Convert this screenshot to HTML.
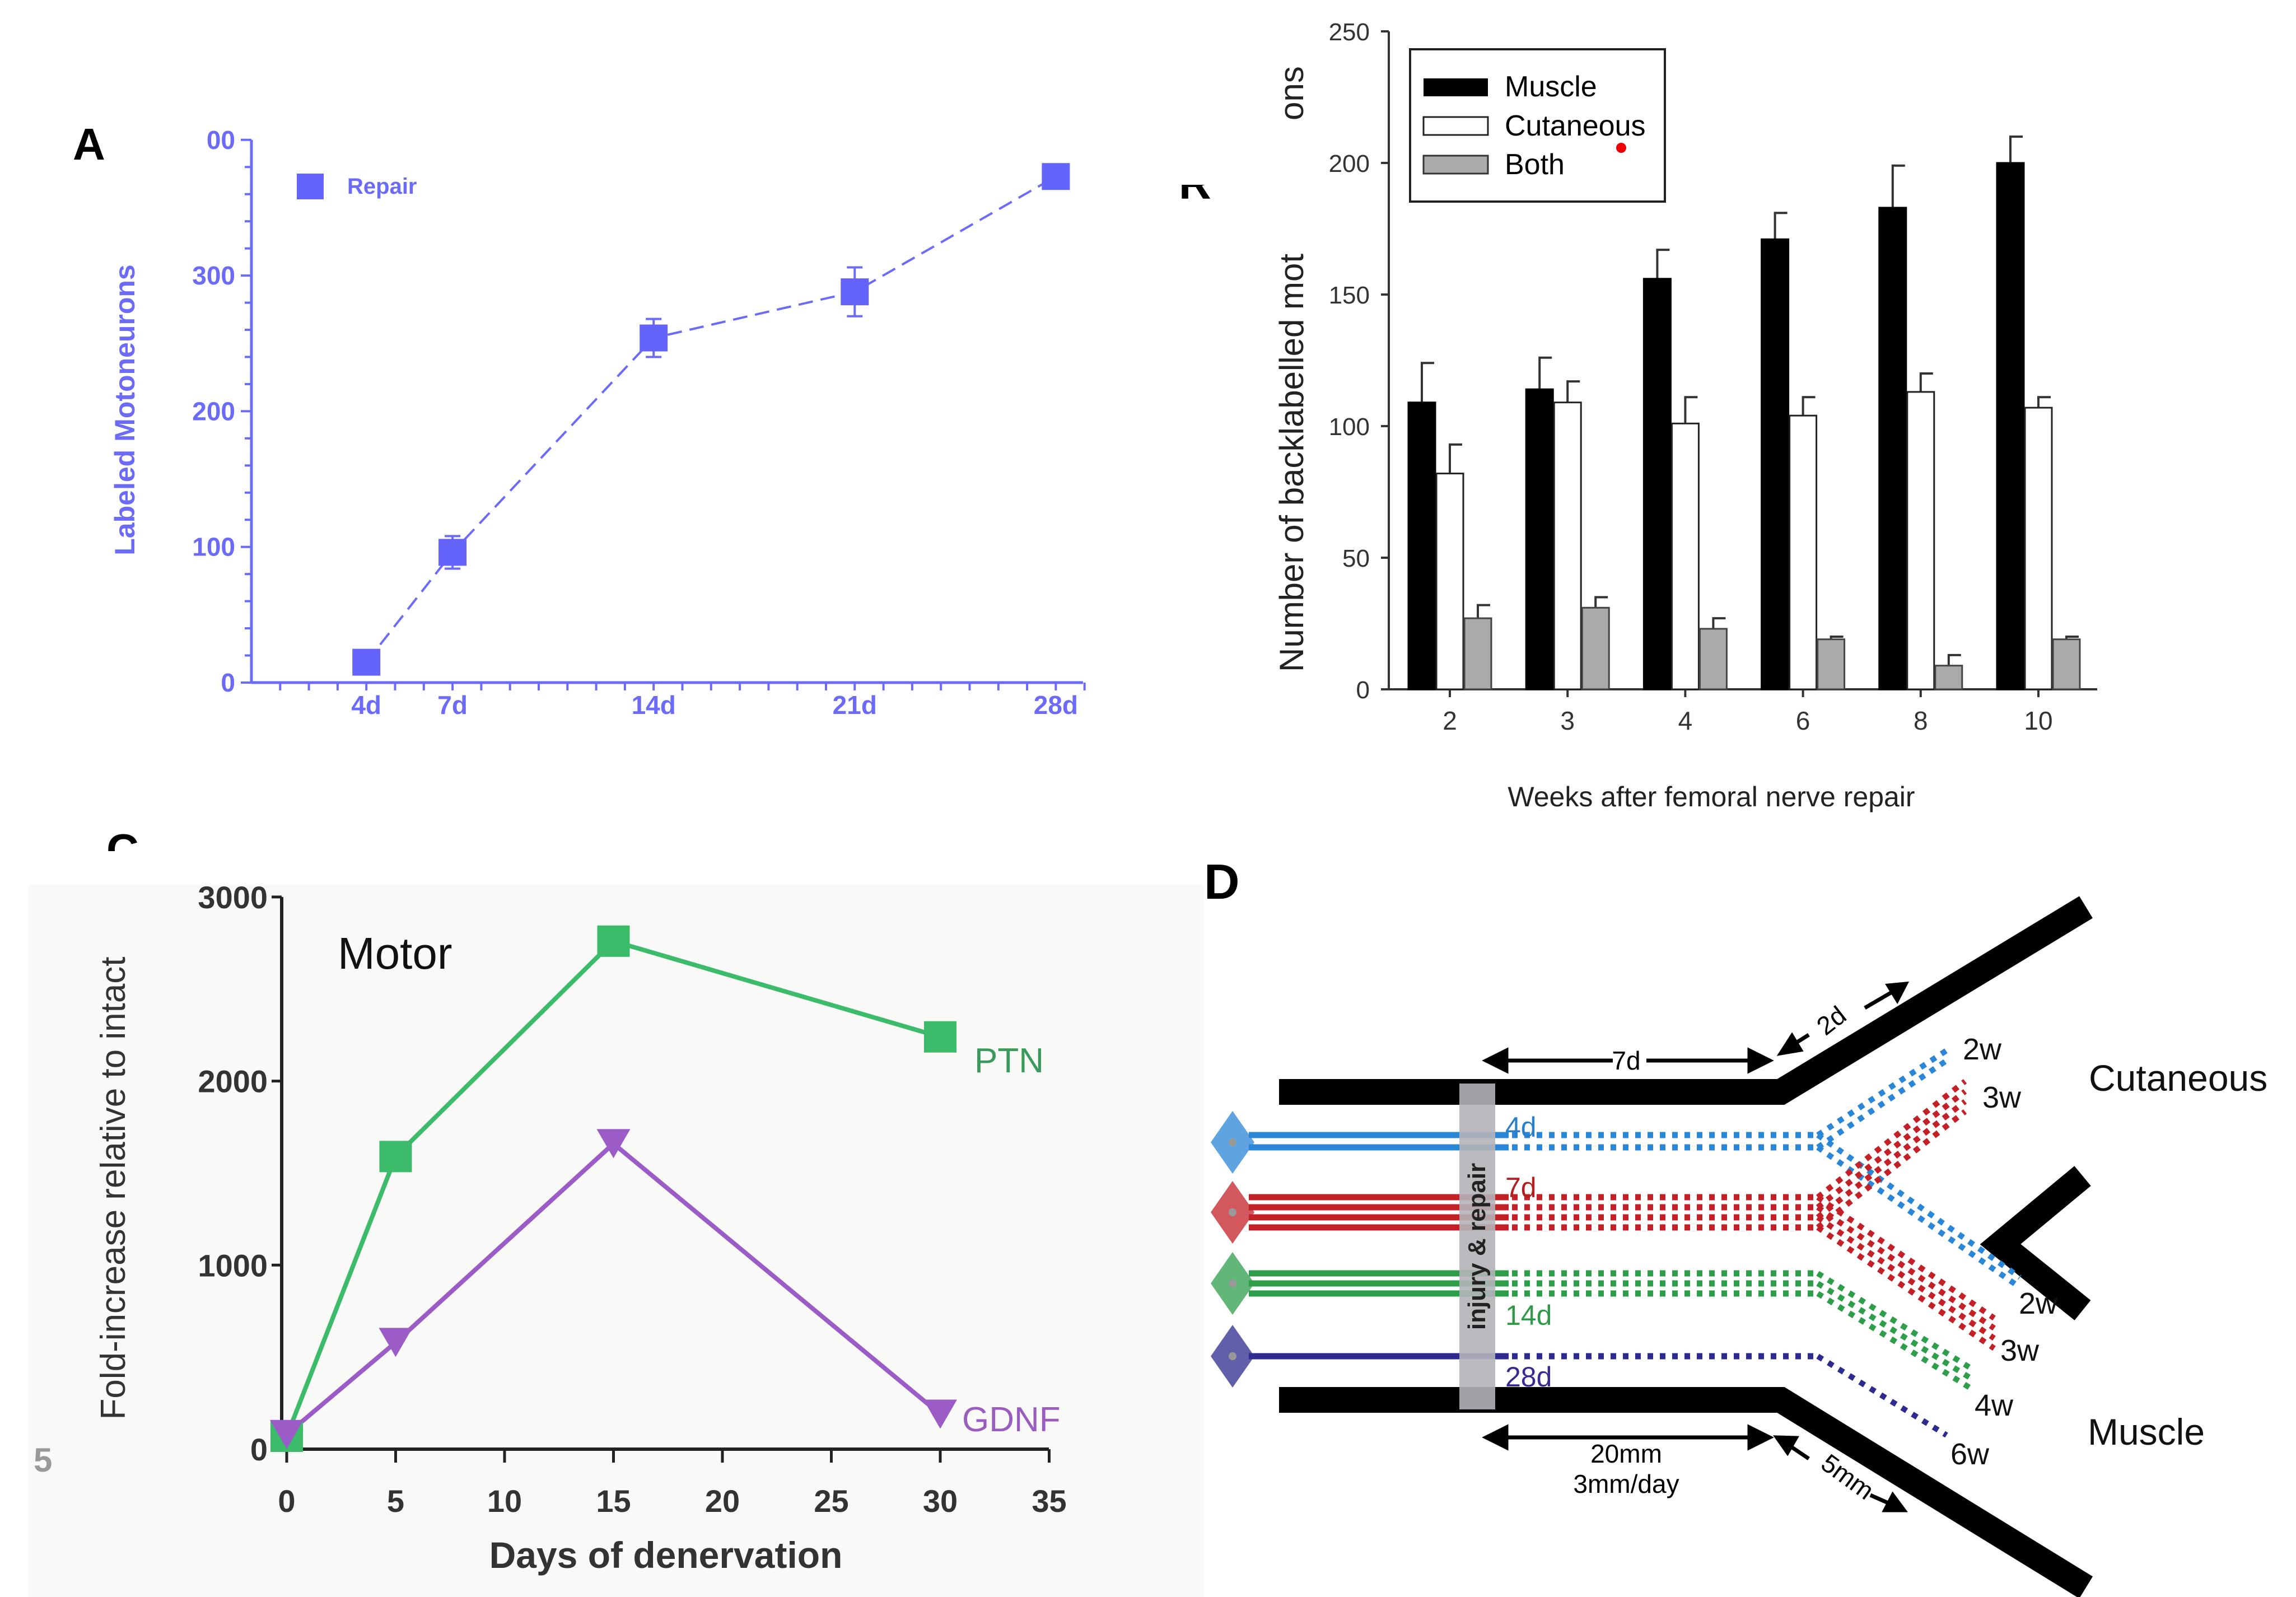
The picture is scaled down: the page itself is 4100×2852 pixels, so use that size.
<!DOCTYPE html>
<html><head><meta charset="utf-8"><style>
html,body{margin:0;padding:0;background:#fff}
svg{display:block}
text{font-family:"Liberation Sans",sans-serif}
</style></head><body>
<svg id="root" xmlns="http://www.w3.org/2000/svg" width="4100" height="2852" viewBox="0 0 4100 2852">
<rect width="4100" height="2852" fill="#fff"/>
<!-- Panel A -->
<g id="pa">
<text x="130" y="285" font-size="80" font-weight="bold">A</text>
<text x="240" y="732" font-size="50" font-weight="bold" fill="#6b6bf7" text-anchor="middle" transform="rotate(-90 240 732)">Labeled Motoneurons</text>
<rect x="530" y="310" width="48" height="46" fill="#6464fa"/>
<text x="620" y="346" font-size="40" font-weight="bold" fill="#6b6bf7">Repair</text>
</g>
<!-- Panel B -->
<g id="pb">
<text x="2105" y="355" font-size="80" font-weight="bold">R</text>
<rect x="2050" y="0" width="150" height="330" fill="#fff"/>
<text x="2327" y="1200" font-size="60" fill="#222" text-anchor="start" transform="rotate(-90 2327 1200)">Number of backlabelled mot</text>
<text x="2327" y="215" font-size="60" fill="#222" transform="rotate(-90 2327 215)">ons</text>
<rect x="2290" y="215" width="60" height="160" fill="#fff"/>
<rect x="2300" y="0" width="70" height="120" fill="#fff"/>
<text x="3056" y="1440" font-size="50" fill="#222" text-anchor="middle">Weeks after femoral nerve repair</text>
<g>
<rect x="2518" y="88" width="455" height="272" fill="#fff" stroke="#222" stroke-width="4"/>
<rect x="2542" y="140" width="115" height="32" fill="#000"/>
<text x="2687" y="172" font-size="52">Muscle</text>
<rect x="2542" y="209" width="115" height="32" fill="#fff" stroke="#222" stroke-width="3"/>
<text x="2687" y="242" font-size="52">Cutaneous</text>
<rect x="2542" y="278" width="115" height="32" fill="#aaa" stroke="#333" stroke-width="3"/>
<text x="2687" y="311" font-size="52">Both</text>
<circle cx="2895" cy="264" r="9" fill="#e00"/>
</g>
</g>
<!-- Panel C -->
<rect x="50" y="1580" width="2100" height="1272" fill="#f9f9f7"/>
<g id="pc">
<text x="190" y="1545" font-size="80" font-weight="bold">C</text>
<rect x="150" y="1520" width="130" height="40" fill="#fff"/>
<text x="60" y="2628" font-size="60" font-weight="bold" fill="#999">5</text>
<text x="223" y="2122" font-size="62" fill="#333" text-anchor="middle" transform="rotate(-90 223 2122)">Fold-increase relative to intact</text>
<text x="1189" y="2800" font-size="66" font-weight="bold" fill="#333" text-anchor="middle">Days of denervation</text>
<text x="603" y="1730" font-size="80" fill="#111">Motor</text>
<text x="1740" y="1915" font-size="62" fill="#3a9a5c">PTN</text>
<text x="1718" y="2556" font-size="62" fill="#9b5cc0">GDNF</text>
</g>
<!-- Panel D -->
<g id="pd">
<text x="2150" y="1605" font-size="88" font-weight="bold">D</text>
<g fill="none" stroke="#000" stroke-width="46" stroke-linejoin="miter">
<polyline points="2284,1950 3180,1950 3725,1620"/>
<polyline points="2284,2500 3180,2500 3725,2835"/>
<polyline points="3719,2100 3572,2222 3719,2340"/>
</g>
<g id="axons"></g>
<rect x="2606" y="1935" width="64" height="582" fill="#b4b4b8" opacity="0.9"/>
<text x="2652" y="2226" font-size="44" font-weight="bold" fill="#222" text-anchor="middle" transform="rotate(-90 2652 2226)">injury &amp; repair</text>
<g font-size="50">
<text x="2688" y="2030" fill="#2a7fc8">4d</text>
<text x="2688" y="2138" fill="#b02020">7d</text>
<text x="2688" y="2366" fill="#2d9a47">14d</text>
<text x="2688" y="2476" fill="#3a2a90">28d</text>
</g>
<g font-size="54" fill="#111">
<text x="3505" y="1892">2w</text><text x="3540" y="1978">3w</text>
<text x="3605" y="2346">2w</text><text x="3572" y="2430">3w</text>
<text x="3526" y="2528">4w</text><text x="3483" y="2615">6w</text>
</g>
<text x="3730" y="1948" font-size="66" fill="#111">Cutaneous</text>
<text x="3728" y="2580" font-size="66" fill="#111">Muscle</text>
<g stroke="#000" stroke-width="7" fill="#000">
<line x1="2670" y1="1894" x2="2880" y2="1894"/><line x1="2940" y1="1894" x2="3145" y2="1894"/>
<polygon points="2654,1894 2690,1876 2690,1912"/><polygon points="3160,1894 3124,1876 3124,1912"/>
<line x1="2670" y1="2567" x2="3145" y2="2567"/>
<polygon points="2654,2567 2690,2549 2690,2585"/><polygon points="3160,2567 3124,2549 3124,2585"/>
<line x1="3195" y1="1870" x2="3230" y2="1848"/><line x1="3330" y1="1800" x2="3390" y2="1765"/>
<polygon points="3180,1881 3200,1850 3215,1875"/><polygon points="3403,1757 3372,1760 3388,1786"/>
<line x1="3190" y1="2578" x2="3230" y2="2605"/><line x1="3340" y1="2670" x2="3385" y2="2690"/>
<polygon points="3173,2567 3207,2568 3192,2594"/><polygon points="3400,2697 3366,2697 3380,2670"/>
</g>
<text x="2904" y="1910" font-size="46" text-anchor="middle">7d</text>
<text x="3280" y="1835" font-size="46" text-anchor="middle" transform="rotate(-38 3280 1835)">2d</text>
<text x="3290" y="2650" font-size="46" text-anchor="middle" transform="rotate(36 3290 2650)">5mm</text>
<text x="2904" y="2612" font-size="46" text-anchor="middle">20mm</text>
<text x="2904" y="2666" font-size="46" text-anchor="middle">3mm/day</text>
</g>
</svg>
<script>
var NS="http://www.w3.org/2000/svg";
function mk(p,tag,at){var e=document.createElementNS(NS,tag);for(var k in at)e.setAttribute(k,at[k]);p.appendChild(e);return e;}

/* ---- Panel A data ---- */
var aDays=[4,7,14,21,28];
var aValues=[15,96,254,288,373];
var aErrors=[0,12,14,18,0];
var aYTicks=[0,100,200,300,400];
var aYTickLabels=["0","100","200","300","00"];
var aXLabels=["4d","7d","14d","21d","28d"];

/* ---- Panel B data ---- */
var bWeeks=["2","3","4","6","8","10"];
var bMuscle=[109,114,156,171,183,200];
var bMuscleErr=[15,12,11,10,16,10];
var bCutaneous=[82,109,101,104,113,107];
var bCutaneousErr=[11,8,10,7,7,4];
var bBoth=[27,31,23,19,9,19];
var bBothErr=[5,4,4,1,4,1];
var bYTicks=[0,50,100,150,200,250];

/* ---- Panel C data ---- */
var cDays=[0,5,15,30];
var cPTN=[70,1590,2760,2240];
var cGDNF=[80,580,1660,190];
var cXTicks=[0,5,10,15,20,25,30,35];
var cYTicks=[0,1000,2000,3000];

(function(){
var g=document.getElementById('pa');var col="#6b6bf7";
function ax(d){return 449+d*51.3;}
function ay(v){return 1219-v*2.423;}
mk(g,'line',{x1:449,y1:ay(0),x2:1934,y2:ay(0),stroke:col,'stroke-width':5});
mk(g,'line',{x1:449,y1:ay(0),x2:449,y2:ay(400),stroke:col,'stroke-width':5});
for(var v=0;v<=400;v+=20){var big=v%100===0;mk(g,'line',{x1:big?430:437,y1:ay(v),x2:449,y2:ay(v),stroke:col,'stroke-width':4});}
for(var d=1;d<=29;d++){mk(g,'line',{x1:ax(d),y1:ay(0),x2:ax(d),y2:ay(0)+14,stroke:col,'stroke-width':4});}
for(var i=0;i<aYTicks.length;i++){var t=mk(g,'text',{x:420,y:ay(aYTicks[i])+16,'font-size':46,'font-weight':'bold',fill:col,'text-anchor':'end'});t.textContent=aYTickLabels[i];

}
for(var i=0;i<aDays.length;i++){var t=mk(g,'text',{x:ax(aDays[i]),y:1275,'font-size':46,'font-weight':'bold',fill:col,'text-anchor':'middle'});t.textContent=aXLabels[i];

}
var pts=aDays.map(function(d,i){return ax(d)+','+ay(aValues[i]);}).join(' ');
var l=mk(g,'polyline',{points:pts,fill:'none',stroke:col,'stroke-width':4,'stroke-dasharray':'26,14'});


for(var i=0;i<aDays.length;i++){var x=ax(aDays[i]),y=ay(aValues[i]);
if(aErrors[i]>0){var e=mk(g,'path',{d:'M'+x+','+ay(aValues[i]+aErrors[i])+'V'+ay(aValues[i]-aErrors[i])+'M'+(x-14)+','+ay(aValues[i]+aErrors[i])+'h28M'+(x-14)+','+ay(aValues[i]-aErrors[i])+'h28',stroke:col,'stroke-width':4,fill:'none'});

}
var r=mk(g,'rect',{x:x-25,y:y-24,width:50,height:48,fill:'#6464fa'});

}
})();

(function(){
var g=document.getElementById('pb');
function by(v){return 1231-v*4.70;}
function gx(i){return 2589+i*210.2;}
mk(g,'line',{x1:2480,y1:by(0),x2:3745,y2:by(0),stroke:'#333','stroke-width':4});
mk(g,'line',{x1:2480,y1:by(0),x2:2480,y2:by(250),stroke:'#333','stroke-width':4});
for(var i=0;i<bYTicks.length;i++){mk(g,'line',{x1:2466,y1:by(bYTicks[i]),x2:2480,y2:by(bYTicks[i]),stroke:'#333','stroke-width':4});
var t=mk(g,'text',{x:2446,y:by(bYTicks[i])+16,'font-size':44,fill:'#333','text-anchor':'end'});t.textContent=bYTicks[i];

}
var series=[[bMuscle,bMuscleErr,'#000','#000',-1],[bCutaneous,bCutaneousErr,'#fff','#222',0],[bBoth,bBothErr,'#aaa','#444',1]];
var names=['bar-muscle','bar-cutaneous','bar-both'];
for(var i=0;i<bWeeks.length;i++){
mk(g,'line',{x1:gx(i),y1:by(0),x2:gx(i),y2:by(0)+14,stroke:'#333','stroke-width':4});
var t=mk(g,'text',{x:gx(i),y:1303,'font-size':46,fill:'#333','text-anchor':'middle'});t.textContent=bWeeks[i];


for(var s=0;s<3;s++){var S=series[s];var cx=gx(i)+S[4]*50;var v=S[0][i],e=S[1][i];
var eb=mk(g,'path',{d:'M'+cx+','+by(v)+'V'+by(v+e)+'M'+(cx-2)+','+by(v+e)+'h24',stroke:'#333','stroke-width':4,fill:'none'});


var r=mk(g,'rect',{x:cx-24,y:by(v),width:48,height:by(0)-by(v),fill:S[2],stroke:S[3],'stroke-width':3});

}}
})();

(function(){
var g=document.getElementById('pc');
function cx(d){return 512+d*38.9;}
function cy(v){return 2588-v*0.3287;}
mk(g,'line',{x1:503,y1:cy(0),x2:1873,y2:cy(0),stroke:'#222','stroke-width':6});
mk(g,'line',{x1:503,y1:cy(0),x2:503,y2:cy(3000),stroke:'#222','stroke-width':6});
for(var i=0;i<cYTicks.length;i++){mk(g,'line',{x1:485,y1:cy(cYTicks[i]),x2:503,y2:cy(cYTicks[i]),stroke:'#222','stroke-width':5});
var t=mk(g,'text',{x:478,y:cy(cYTicks[i])+20,'font-size':56,'font-weight':'bold',fill:'#333','text-anchor':'end'});t.textContent=cYTicks[i];

}
for(var i=0;i<cXTicks.length;i++){mk(g,'line',{x1:cx(cXTicks[i]),y1:cy(0),x2:cx(cXTicks[i]),y2:cy(0)+24,stroke:'#222','stroke-width':5});
var t=mk(g,'text',{x:cx(cXTicks[i]),y:2700,'font-size':56,'font-weight':'bold',fill:'#333','text-anchor':'middle'});t.textContent=cXTicks[i];

}
var l1=mk(g,'polyline',{points:cDays.map(function(d,i){return cx(d)+','+cy(cPTN[i]);}).join(' '),fill:'none',stroke:'#3cbb6a','stroke-width':8});


var l2=mk(g,'polyline',{points:cDays.map(function(d,i){return cx(d)+','+cy(cGDNF[i]);}).join(' '),fill:'none',stroke:'#9b5cc8','stroke-width':8});


for(var i=0;i<cDays.length;i++){var x=cx(cDays[i]);
var r=mk(g,'rect',{x:x-29,y:cy(cPTN[i])-28,width:58,height:56,fill:'#3cbb6a'});


var y=cy(cGDNF[i]);
var p=mk(g,'polygon',{points:(x-30)+','+(y-26)+' '+(x+30)+','+(y-26)+' '+x+','+(y+26),fill:'#9b5cc8'});

}
})();

(function(){
var g=document.getElementById('axons');
var groups=[
 {c:'#2a86d6',y:[2027,2049],ends:[[3482,1881],[3607,2290]]},
 {c:'#c42028',y:[2138,2156,2174,2192],ends:[[3509,1958],[3561,2381]]},
 {c:'#2e9e4a',y:[2274,2292,2310],ends:[[3522,2463]]},
 {c:'#2e2a8e',y:[2422],ends:[[3476,2563]]}];
var cyc=[2040,2165,2292,2422];
for(var k=0;k<groups.length;k++){var G=groups[k];
var dm=mk(g,'polygon',{points:'2162,'+cyc[k]+' 2201,'+(cyc[k]-56)+' 2240,'+cyc[k]+' 2201,'+(cyc[k]+56),fill:G.c,opacity:0.75});


mk(g,'circle',{cx:2201,cy:cyc[k],r:7,fill:'#999'});
for(var j=0;j<G.y.length;j++){var y=G.y[j];var off=(j-(G.y.length-1)/2)*18;
mk(g,'line',{x1:2230,y1:y,x2:2694,y2:y,stroke:G.c,'stroke-width':11});
mk(g,'line',{x1:2700,y1:y,x2:3246,y2:y,stroke:G.c,'stroke-width':11,'stroke-dasharray':'10,12'});
for(var e=0;e<G.ends.length;e++){
mk(g,'line',{x1:3246,y1:y,x2:G.ends[e][0],y2:G.ends[e][1]+off,stroke:G.c,'stroke-width':10,'stroke-dasharray':'10,12'});}}}
})();
</script>
</body></html>
